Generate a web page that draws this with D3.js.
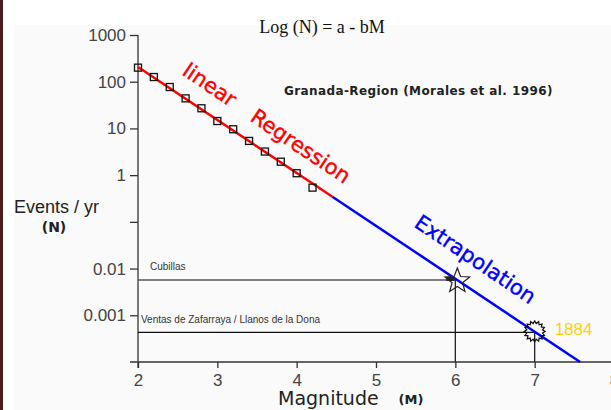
<!DOCTYPE html>
<html>
<head>
<meta charset="utf-8">
<script src="https://cdn.jsdelivr.net/npm/d3@7"></script>
<style>
  html, body { margin: 0; padding: 0; background: #fff; }
  svg { display: block; }
</style>
</head>
<body>
<svg id="chart" width="611" height="410"></svg>
<script>
// observed magnitude / rate pairs (squares)
var magnitudes = [2.0, 2.2, 2.4, 2.6, 2.8, 3.0, 3.2, 3.4, 3.6, 3.8, 4.0, 4.2];
var eventsPerYear = [200, 126, 77, 44, 27, 14.4, 9.6, 5.4, 3.2, 1.94, 1.1, 0.54];

// Log(N) = a - bM
var fitA = 4.58, fitB = 1.133;
var regressionRange = [2.0, 4.45];
var extrapolationRange = [4.45, 7.573];

// historical earthquakes
var quakeNames = ["Cubillas", "Ventas de Zafarraya / Llanos de la Dona"];
var quakeMagnitudes = [6.0, 7.0];
var quakeRates = [0.0057, 0.00043];
var quakeYears = ["", "1884"];

var xTickValues = [2, 3, 4, 5, 6, 7, 8];
var yTickValues = [1000, 100, 10, 1, 0.1, 0.01, 0.001];
var yTickLabels = ["1000", "100", "10", "1", "", "0.01", "0.001"];

var svg = d3.select("#chart");

var x = d3.scaleLinear().domain([2, 8]).range([138, 614]);
var y = d3.scaleLog().domain([1e-4, 1e3]).range([362, 35]);

//background: white top band, faint grey panel, dark left edge
svg.append("rect").attr("width", 611).attr("height", 410).style("fill", "#fff");
svg.append("rect").attr("x", 14).attr("y", 25).attr("width", 597).attr("height", 385).style("fill", "#fafafa");
svg.append("rect").attr("x", 0).attr("y", 0).attr("width", 3).attr("height", 410).style("fill", "#4a1c1c");

var fitValue = function(m) { return Math.pow(10, fitA - fitB * m); };

//axes
var yAxis = d3.axisLeft(y)
  .tickValues(yTickValues)
  .tickSize(8)
  .tickSizeOuter(0)
  .tickPadding(4)
  .tickFormat(function(d, i) { return yTickLabels[i]; });

var yAxisG = svg.append("g").attr("transform", "translate(138,0)").call(yAxis);
yAxisG.select(".domain").remove();
yAxisG.selectAll("line").attr("stroke", "#333").attr("stroke-width", 1.3);
yAxisG.selectAll("text")
  .style("font-family", "Liberation Sans, Arial, sans-serif")
  .style("font-size", "17px")
  .style("fill", "#444");

var xAxis = d3.axisBottom(x)
  .tickValues(xTickValues)
  .tickSize(6)
  .tickSizeOuter(0)
  .tickFormat(d3.format("d"));

var xAxisG = svg.append("g").attr("transform", "translate(0,362)").call(xAxis);
xAxisG.select(".domain").remove();
xAxisG.selectAll("line").attr("stroke", "#333").attr("stroke-width", 1.3);
xAxisG.selectAll("text")
  .attr("y", 24)
  .attr("dy", null)
  .style("font-family", "Liberation Sans, Arial, sans-serif")
  .style("font-size", "17px")
  .style("fill", "#444");

//axis lines
svg.append("line")
  .attr("x1", 138).attr("y1", y(1000))
  .attr("x2", 138).attr("y2", 368)
  .attr("stroke", "#333").attr("stroke-width", 1.3);
svg.append("line")
  .attr("x1", 130).attr("y1", 362)
  .attr("x2", 611).attr("y2", 362)
  .attr("stroke", "#333").attr("stroke-width", 1.3);

//reference lines for historical quakes
var quakeColors = ["#555", "#111"];
quakeNames.forEach(function(name, i) {
  var qx = x(quakeMagnitudes[i]), qy = y(quakeRates[i]);
  svg.append("line")
    .attr("x1", x(2)).attr("y1", qy)
    .attr("x2", qx).attr("y2", qy)
    .attr("stroke", quakeColors[i]).attr("stroke-width", 1.3);
  svg.append("line")
    .attr("x1", qx).attr("y1", qy)
    .attr("x2", qx).attr("y2", 362)
    .attr("stroke", "#222").attr("stroke-width", 1.3);
});

svg.append("text")
  .attr("x", 150).attr("y", y(quakeRates[0]) - 10)
  .text(quakeNames[0])
  .style("font-family", "Liberation Sans, Arial, sans-serif")
  .style("font-size", "10px")
  .style("fill", "#333");

svg.append("text")
  .attr("x", 141).attr("y", y(quakeRates[1]) - 9)
  .text(quakeNames[1])
  .style("font-family", "Liberation Sans, Arial, sans-serif")
  .style("font-size", "10px")
  .style("fill", "#333");

//fit lines
var line = d3.line()
  .x(function(m) { return x(m); })
  .y(function(m) { return y(fitValue(m)); });

svg.append("path")
  .attr("d", line(extrapolationRange))
  .attr("stroke", "#0000ff").attr("stroke-width", 2.5).style("fill", "none");
svg.append("path")
  .attr("d", line(regressionRange))
  .attr("stroke", "#ff0000").attr("stroke-width", 2.5).style("fill", "none");

//observed squares
svg.append("g").selectAll("rect")
  .data(magnitudes)
  .join("rect")
  .attr("x", function(m) { return x(m) - 3.5; })
  .attr("y", function(m, i) { return y(eventsPerYear[i]) - 3.5; })
  .attr("width", 7)
  .attr("height", 7)
  .attr("stroke", "#111")
  .attr("stroke-width", 1.3)
  .style("fill", "none");

//star marker for Cubillas
var starPoints = function(cx, cy, n, rOut, rIn) {
  var pts = [];
  for (var k = 0; k < n * 2; k++) {
    var r = k % 2 === 0 ? rOut : rIn,
      a = -Math.PI / 2 + k * Math.PI / n;
    pts.push([cx + r * Math.cos(a), cy + r * Math.sin(a)]);
  }
  return "M" + pts.join("L") + "Z";
};

var cubX = x(quakeMagnitudes[0]) + 2, cubY = y(quakeRates[0]) + 1;
svg.append("rect")
  .attr("x", cubX - 11).attr("y", cubY - 4)
  .attr("width", 8).attr("height", 4)
  .style("fill", "#222");
svg.append("path")
  .attr("d", starPoints(cubX, cubY, 5, 13, 5.5))
  .attr("stroke", "#222").attr("stroke-width", 1.2)
  .style("fill", "none");

//sunburst marker for 1884
var venX = x(quakeMagnitudes[1]), venY = y(quakeRates[1]);
svg.append("path")
  .attr("d", starPoints(venX, venY - 1, 16, 10.5, 8))
  .attr("stroke", "#111").attr("stroke-width", 1.2)
  .style("fill", "none");

svg.append("text")
  .attr("x", venX + 20).attr("y", venY + 3)
  .text(quakeYears[1])
  .style("font-family", "Liberation Sans, Arial, sans-serif")
  .style("font-size", "17px")
  .style("fill", "#ffd200");

//rotated labels along the fit
var rotatedLabel = function(px, py, txt, color) {
  svg.append("text")
    .attr("transform", "translate(" + px + "," + py + ") rotate(34)")
    .text(txt)
    .style("font-family", "DejaVu Sans, Verdana, sans-serif")
    .style("font-size", "21px")
    .style("fill", color)
    .style("stroke", color)
    .style("stroke-width", 0.4);
};
rotatedLabel(181, 74, "linear", "#ff0000");
rotatedLabel(249, 120, "Regression", "#ff0000");
rotatedLabel(413, 226, "Extrapolation", "#0000ff");

//titles
svg.append("text")
  .attr("x", 322).attr("y", 33)
  .attr("text-anchor", "middle")
  .text("Log (N) = a - bM")
  .style("font-family", "Liberation Serif, Times New Roman, serif")
  .style("font-size", "18px")
  .style("fill", "#111");

svg.append("text")
  .attr("x", 284).attr("y", 95)
  .text("Granada-Region (Morales et al. 1996)")
  .style("font-family", "DejaVu Sans, Verdana, sans-serif")
  .style("font-size", "12px")
  .style("letter-spacing", "0.4px")
  .style("font-weight", "bold")
  .style("fill", "#222");

//axis titles
svg.append("text")
  .attr("x", 14).attr("y", 213)
  .text("Events / yr")
  .style("font-family", "Liberation Sans, Arial, sans-serif")
  .style("font-size", "18px")
  .style("fill", "#222");

svg.append("text")
  .attr("x", 54).attr("y", 232)
  .attr("text-anchor", "middle")
  .text("(N)")
  .style("font-family", "DejaVu Sans, Verdana, sans-serif")
  .style("font-size", "14px")
  .style("font-weight", "bold")
  .style("fill", "#222");

svg.append("text")
  .attr("x", 278).attr("y", 405)
  .text("Magnitude")
  .style("font-family", "DejaVu Sans, Verdana, sans-serif")
  .style("font-size", "19px")
  .style("fill", "#222");

svg.append("text")
  .attr("x", 411).attr("y", 404)
  .attr("text-anchor", "middle")
  .text("(M)")
  .style("font-family", "DejaVu Sans, Verdana, sans-serif")
  .style("font-size", "13px")
  .style("font-weight", "bold")
  .style("fill", "#222");
</script>
</body>
</html>
